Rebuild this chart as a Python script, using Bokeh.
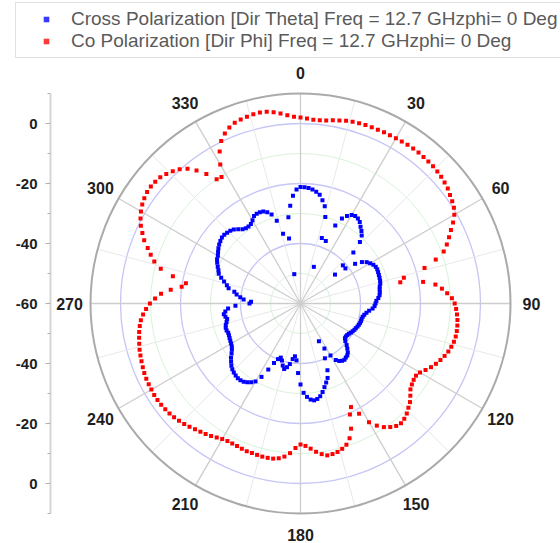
import numpy as np
from bokeh.plotting import figure
from bokeh.models import Legend, LegendItem, FixedTicker, CustomJSTickFormatter, Range1d
from bokeh.embed import file_html
from bokeh.resources import INLINE
from bokeh.core.properties import value

# ---------------- data ----------------
angles_deg = list(range(0, 360, 2))

blue_db = [
    -21.2, -21.2, -21.4, -21.8, -22.4, -23.2, -24.8, -26.6, -30.0, -37.0,
    -47.0, -37.5, -31.5, -28.5, -27.0, -25.9, -25.6, -25.8, -26.4, -27.5,
    -28.4, -29.5, -31.5, -35.5, -41.0, -45.0, -41.0, -37.5, -35.3, -34.0,
    -33.2, -32.5, -32.1, -32.0, -32.1, -32.2, -32.3, -32.4, -32.6, -33.0,
    -33.2, -33.3, -33.5, -34.0, -34.7, -35.0, -35.3, -35.9, -37.0, -37.8,
    -38.4, -38.8, -39.0, -39.0, -39.1, -39.3, -39.5, -39.8, -40.0, -40.3,
    -40.6, -41.0, -41.2, -41.3, -41.2, -40.5, -39.3, -38.3, -37.3, -36.7,
    -36.5, -36.2, -36.4, -36.9, -37.8, -40.0, -43.0, -46.0, -40.0, -36.0,
    -33.6, -32.3, -31.0, -29.6, -28.4, -27.7, -27.4, -27.8, -28.8, -30.2,
    -33.0, -36.8, -41.0, -42.3, -41.3, -39.5, -38.3, -37.5, -38.5, -40.0,
    -40.8, -40.0, -38.3, -35.5, -32.3, -30.0, -29.0, -28.3, -27.8, -27.5,
    -27.5, -27.7, -28.0, -28.4, -29.0, -29.8, -30.6, -31.6, -32.4, -33.0,
    -33.3, -33.5, -33.7, -33.9, -34.0, -33.8, -33.8, -34.1, -34.6, -35.0,
    -34.6, -34.2, -34.8, -35.8, -38.3, -43.0, -43.5, -41.0, -39.8, -38.5,
    -37.6, -35.5, -34.7, -33.5, -32.2, -31.0, -30.5, -29.8, -29.1, -28.5,
    -28.2, -27.6, -27.0, -26.5, -26.1, -25.8, -25.8, -26.0, -26.3, -26.8,
    -27.7, -28.6, -29.0, -29.0, -28.8, -28.0, -27.0, -26.7, -26.7, -26.9,
    -27.6, -28.8, -31.3, -36.0, -50.0, -38.0, -31.0, -27.2, -24.0, -22.0,
]

red_db = [
    2.0, 1.7, 1.4, 1.4, 1.6, 2.0, 2.4, 2.8, 3.0, 3.2,
    3.3, 3.4, 3.4, 3.5, 3.5, 3.6, 3.7, 3.8, 3.9, 3.9,
    3.8, 3.7, 3.6, 3.4, 3.1, 2.7, 2.3, 1.6, 1.0, 0.3,
    -0.8, -2.4, -4.2, -5.8, -7.4, -9.2, -12.6, -17.0, -24.5, -26.0,
    -18.5, -14.6, -12.6, -11.0, -9.5, -8.6, -8.1, -7.7, -7.4, -7.2,
    -7.1, -7.1, -7.3, -7.7, -8.2, -8.9, -9.7, -10.6, -11.6, -12.8,
    -14.0, -14.6, -14.5, -14.1, -13.5, -12.2, -10.9, -10.0, -9.0, -8.3,
    -7.9, -8.2, -9.1, -10.3, -12.0, -14.3, -18.4, -21.6, -19.5, -15.0,
    -12.2, -10.5, -9.6, -9.0, -8.7, -8.6, -9.3, -10.3, -11.5, -12.5,
    -13.0, -11.8, -10.0, -8.7, -7.9, -7.5, -7.4, -7.4, -7.5, -7.6,
    -7.6, -7.8, -8.0, -8.1, -8.1, -7.8, -7.3, -6.7, -6.2, -5.8,
    -5.3, -4.7, -4.2, -3.7, -3.3, -3.0, -2.8, -2.6, -2.5, -2.5,
    -2.6, -2.7, -2.8, -3.0, -3.3, -3.6, -3.9, -4.2, -4.6, -5.0,
    -5.4, -5.9, -6.5, -7.4, -8.5, -9.8, -11.5, -13.4, -16.5, -20.0,
    -21.2, -16.5, -12.0, -9.3, -7.5, -5.8, -3.8, -2.3, -0.8, 0.4,
    1.4, 2.2, 2.8, 3.2, 3.3, 3.2, 2.9, 2.2, 1.3, 0.2,
    -1.4, -3.7, -6.6, -10.0, -10.3, -6.5, -2.6, 0.3, 2.0, 3.3,
    4.1, 4.5, 4.8, 5.0, 5.1, 4.9, 4.4, 3.7, 2.9, 2.3,
]

blue_label = "Cross Polarization [Dir Theta] Freq = 12.7 GHzphi= 0 Deg"
red_label = "Co Polarization [Dir Phi] Freq = 12.7 GHzphi= 0 Deg"

angle_ticks = [0, 30, 60, 90, 120, 150, 180, 210, 240, 270, 300, 330]
angle_tick_labels = ["0", "30", "60", "90", "120", "150", "180", "210", "240", "270", "300", "330"]
minor_angle_ticks = [15, 45, 75, 105, 135, 165, 195, 225, 255, 285, 315, 345]

db_min, db_max = -60, 10
major_db = [-40, -20, 0]
minor_db = [-50, -30, -10]
radial_ticks = [-60, -40, -20, 0, 20, 40, 60]
radial_minor = [-70, -50, -30, -10, 10, 30, 50, 70]

BLUE = "#0000ff"
RED = "#ff0000"


def polar_xy(theta_deg, db):
    r = np.clip(np.asarray(db, dtype=float) - db_min, 0, None)
    t = np.radians(np.asarray(theta_deg, dtype=float))
    return r * np.sin(t), r * np.cos(t)


R = db_max - db_min
PX = 3.0  # pixels per dB
TOP_H = 60
MAIN_H = 543 - TOP_H
CY = 303 - TOP_H  # centre row inside main figure

# ---------------- legend strip (separate root, no frame alignment) ----------------
top = figure(width=560, height=TOP_H, x_range=Range1d(0, 560), y_range=Range1d(0, TOP_H),
             x_axis_location=None, y_axis_location=None,
             output_backend="svg", toolbar_location=None,
             min_border_left=0, min_border_right=0, min_border_top=0, min_border_bottom=0)
top.xgrid.visible = False
top.ygrid.visible = False
top.outline_line_color = None
# off-canvas stand-ins that only provide the legend swatches
lb = top.scatter(x=[-1000], y=[-1000], marker="square", size=5, fill_color="#3a3aff", line_color=None)
lr = top.scatter(x=[-1000], y=[-1000], marker="square", size=5, fill_color="#ff3a3a", line_color=None)
legend = Legend(items=[LegendItem(label=blue_label, renderers=[lb]),
                       LegendItem(label=red_label, renderers=[lr])],
                location=(15, 2), margin=0, padding=5, spacing=0,
                glyph_width=50, glyph_height=14, label_height=22, label_standoff=0,
                label_text_font="Liberation Sans", label_text_font_size="19px",
                label_text_color="#5a5a5a",
                border_line_color="#c4c4c4", border_line_width=1.5,
                background_fill_color="white", background_fill_alpha=1)
top.add_layout(legend)

# ---------------- polar plot ----------------
p = figure(width=560, height=MAIN_H,
           x_range=Range1d(-250 / PX, 260 / PX), y_range=Range1d(-(MAIN_H - CY) / PX, CY / PX),
           x_axis_location=None, y_axis_location="left",
           output_backend="svg", toolbar_location=None,
           min_border_left=50, min_border_right=0, min_border_top=0, min_border_bottom=0)
p.xgrid.visible = False
p.ygrid.visible = False
p.outline_line_color = None

# grid circles
n1 = len(minor_db)
p.circle(x=[0] * n1, y=[0] * n1, radius=[d - db_min for d in minor_db],
         fill_color=None, line_color="#d8f2d8", line_width=1)
n2 = len(major_db)
p.circle(x=[0] * n2, y=[0] * n2, radius=[d - db_min for d in major_db],
         fill_color=None, line_color="#c6c6f6", line_width=1.3)

# spokes
mx, my = polar_xy(minor_angle_ticks, [db_max] * len(minor_angle_ticks))
p.segment(x0=0, y0=0, x1=mx, y1=my, line_color="#e8e8e8", line_width=1)
ax, ay = polar_xy(angle_ticks, [db_max] * len(angle_ticks))
p.segment(x0=0, y0=0, x1=ax, y1=ay, line_color="#cdcdcd", line_width=1.3)

# outer circle
p.circle(x=[0], y=[0], radius=[R], fill_color=None, line_color="#aaaaaa", line_width=2)

# angle labels
lx, ly = polar_xy(angle_ticks, [db_min + 77] * len(angle_ticks))
p.text(x=lx, y=ly, text=angle_tick_labels, text_align="center", text_baseline="middle",
       text_font=value("Liberation Sans"), text_font_size="16px", text_font_style="bold",
       text_color="#1e1e1e")

# data
bx, by = polar_xy(angles_deg, blue_db)
rx, ry = polar_xy(angles_deg, red_db)
p.scatter(bx, by, marker="square", size=4, fill_color=BLUE, line_color=None)
p.scatter(rx, ry, marker="square", size=4, fill_color=RED, line_color=None)

# radial axis on the left
yax = p.yaxis[0]
yax.ticker = FixedTicker(ticks=radial_ticks, minor_ticks=radial_minor)
yax.formatter = CustomJSTickFormatter(code="return String(Math.abs(tick) - 60);")
yax.bounds = (-R, R)
yax.axis_line_color = "#d6d6d6"
yax.axis_line_width = 2
yax.major_tick_line_color = "#b0b0b0"
yax.minor_tick_line_color = "#b0b0b0"
yax.major_tick_out = 5
yax.major_tick_in = 0
yax.minor_tick_out = 3
yax.minor_tick_in = 0
yax.major_label_standoff = 8
yax.major_label_text_font = "Liberation Sans"
yax.major_label_text_font_size = "15px"
yax.major_label_text_font_style = "bold"
yax.major_label_text_color = "#1e1e1e"

open("out.html", "w").write(file_html([top, p], INLINE))
